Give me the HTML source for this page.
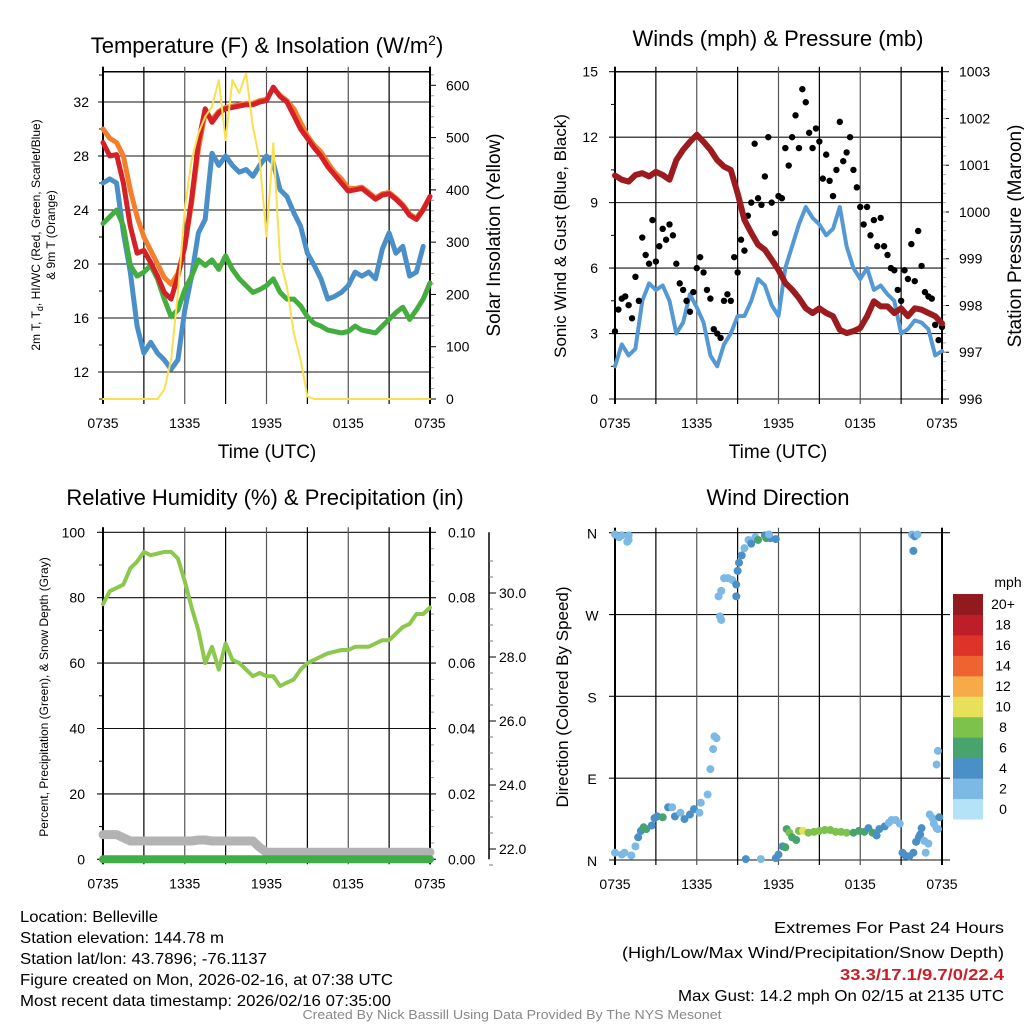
<!DOCTYPE html>
<html><head><meta charset="utf-8"><style>
body{margin:0;background:#fff}
svg{display:block;font-family:"Liberation Sans",Arial,sans-serif}
</style></head><body>
<svg id="s" width="1024" height="1024" viewBox="0 0 1024 1024"></svg>
<script>
// ---------- DATA ----------
const hours = [];for(let i=0;i<=48;i++)hours.push(i/2);
const xTickLabels = ["0735","1335","1935","0135","0735"];
const tempTicks = [12,16,20,24,28,32];
const solarTicks = [0,100,200,300,400,500,600];
const temp2m = [29,28,28.1,26,22.8,20.8,21,20.1,19.1,17.9,17.4,19.1,21.3,24.8,29,31.5,30.5,31.2,31.5,31.6,31.7,31.8,31.8,32,32.1,33.1,32.4,32,31,30,29.3,28.6,28,27.2,26.6,26,25.4,25.5,25.6,25.2,24.8,25.1,25.2,24.8,24.3,23.6,23.3,24,25];
const temp9m = [30,29.3,29,28,25.5,23.5,22,21,20,19,18.5,19.3,21.3,24.5,28.5,31.2,30.7,31.3,31.6,31.7,31.8,31.9,31.9,32.1,32.2,33,32.5,32.1,31.5,30.5,29.5,28.8,28.3,27.5,26.8,26.3,25.6,25.6,25.7,25.3,24.9,25.2,25.3,24.9,24.4,23.7,23.4,24.1,25];
const dewpoint = [26,26.3,26,22.3,19.4,15.4,13.4,14.2,13.4,12.9,12.2,12.9,16.6,19.1,22.3,23.3,28.2,27.3,28,27.3,26.8,27,26.5,27.3,28,27.5,25.5,25,23.8,22.8,20.8,19.9,18.9,17.4,17.6,17.9,18.4,19.4,19.1,19.4,18.9,21.1,22.3,20.8,21.3,19.1,19.4,21.3,null];
const windChill = [23,23.5,24,22.8,19.9,19.1,19.4,19.9,18.9,17.4,16.1,16.6,18.1,19.1,20.3,19.9,20.3,19.6,20.6,19.6,18.9,18.4,17.9,18.1,18.4,18.9,17.9,17.4,17.4,16.9,16.1,15.6,15.4,15.1,15,14.9,15,15.4,15.1,15,14.9,15.4,15.9,16.4,16.8,15.9,16.6,17.4,18.6];
const solar = [0,0,0,0,0,0,0,0,0,18,75,203,362,457,508,540,559,610,495,610,585,623,521,457,311,489,266,215,126,75,5,0,0,0,0,0,0,0,0,0,0,0,0,0,0,0,0,0,0];
const windTicks = [0,3,6,9,12,15];
const presTicks = [996,997,998,999,1000,1001,1002,1003];
const windSpeed = [1.5,2.5,2,2.3,4.5,5.3,5,5.2,4.5,3,3.5,4.8,4.2,3.5,2,1.5,2.5,3,3.8,3.8,4.5,5.5,5.2,4.3,3.8,6,7,8,8.8,8.3,8,7.5,7.8,8.8,7,6,5.5,6,5,5.2,4.8,4.5,3,3.2,3.6,3.5,3.2,2,2.2];
const gustHours = [];for(let i=0;i<=96;i++)gustHours.push(i/4);
const gusts = [3.1,4.1,4.6,4.7,4.3,3.7,5.6,4.5,7.4,6.6,6.2,8.2,
 6.3,7.0,7.8,7.3,8.0,7.5,6.2,5.3,5.0,4.5,4.0,4.9,
 6.0,6.5,5.8,5.0,4.6,3.2,3.0,2.8,4.5,4.8,4.5,6.5,
 5.8,7.3,6.8,8.4,9.0,11.7,9.2,8.9,10.2,12.0,9.0,7.6,
 9.3,9.2,11.5,10.7,12.0,13.0,11.5,14.2,13.6,12.2,11.5,12.4,
 11.8,10.1,11.2,10.0,9.3,10.5,12.7,10.9,11.3,12.0,10.5,9.7,
 8.8,8.0,8.8,7.5,8.2,7.0,8.3,7.0,6.6,6.0,5.9,5.0,
 4.5,5.9,5.5,7.1,5.4,7.7,6.1,4.9,4.7,4.6,3.4,2.7,3.3];
const pressure = [1000.78,1000.69,1000.65,1000.79,1000.83,1000.76,1000.86,1000.79,1000.69,1001.11,1001.33,1001.5,1001.65,1001.5,1001.33,1001.11,1000.97,1000.9,1000.4,999.83,999.55,999.3,999.19,998.98,998.76,998.48,998.34,998.16,997.94,997.84,997.94,997.84,997.77,997.48,997.41,997.45,997.52,997.77,998.09,997.98,997.98,997.84,997.94,997.77,997.94,997.91,997.84,997.77,997.62];
const rhTicks = [0,20,40,60,80,100];
const precipTicks = ["0.00","0.02","0.04","0.06","0.08","0.10"];
const snowTicks = [22,24,26,28,30];
const rh = [78,82,83,84,89,91,94,93,93.5,94,94,92,85,77,70,60,65,58,66,61,60,58,56,57,56,56,53,54,55,58,60,61,62,63,63.5,64,64,65,65,65,66,67,67,69,71,72,75,75,77];
const snowDepth = [22.45,22.45,22.45,22.35,22.25,22.25,22.25,22.25,22.25,22.25,22.25,22.25,22.25,22.25,22.28,22.28,22.25,22.25,22.25,22.25,22.25,22.25,22.25,22.05,21.9,21.9,21.9,21.9,21.9,21.9,21.9,21.9,21.9,21.9,21.9,21.9,21.9,21.9,21.9,21.9,21.9,21.9,21.9,21.9,21.9,21.9,21.9,21.9,21.9];
const precip = new Array(49).fill(0);
const dirLabels = ["N","E","S","W","N"];
const dirHours = [0,0.3,0.5,0.9,1.0,1.0, 0,0.5,0.7,1.2,1.5,1.7,1.9,2.1,2.3,2.7,2.9,3.1,3.5,3.9,4.2,4.4,4.8,5.1,5.5,5.8,6.2,6.3,6.8, 7.0,7.2,7.3,7.45, 7.7,7.8,7.8,7.6,8.0,8.3,8.6,8.9,8.9,9.0,9.1,9.3,9.5,9.8,10.0,10.3,10.5,11.0,11.1,11.4,11.8,11.3, 9.6,10.7,11.8,12.0,12.3,12.5, 12.6,12.8,13.0,13.3,13.5,13.8,14.2,14.6,15.0,15.4,15.8,16.2,16.6,17.0,17.5,17.9,18.3,18.6,18.9,19.2,19.4,19.8,20.1,20.3,20.6,20.9, 21.1,21.3,21.6,21.9,22.1,22.3,22.4,22.5,22.7,22.8,23.0,23.1,23.3,23.4,23.6,23.7,23.6,23.8,23.7, 21.8,22.0,22.2,21.9];
const dirDeg = [358,355,357,350,357,352, 8,6,8,5,15,25,32,36,34,38,46,48,47,58,58,48,52,45,50,56,52,63,72, 100,122,136,134, 268,264,296,290,310,310,308,303,290,318,327,335,343,352,348,355,352,357,354,354,353,358, 1,1,2,6,15,14, 34,30,25,22,32,32,30,31,32,33,33,31,31,30,30,32,31,35,30,27,34,37,41,44,44,40, 8,5,4,8,20,25,28,35,21,8,18,50,46,40,35,120,105,47,34, 358,356,358,340];
const dirSpeed = [2,2,2,2,2,2, 2,2,2,2,2,3,4,5,6,4,4,4,6,4,2,4,2,4,4,4,2,2,2, 1,2,2,2, 2,2,2,2,2,2,2,4,4,4,4,4,2,2,4,2,6,4,6,4,4,2, 4,2,4,4,4,6, 6,8,6,6,8,10,8,8,8,8,8,8,8,8,6,6,6,4,6,4,4,4,2,2,2,2, 4,4,4,4,4,4,4,4,2,2,2,2,2,2,2,2,2,4,2, 2,4,2,4];
const cbLabels = ["0","2","4","6","8","10","12","14","16","18","20+"];
const cbColors = ["#b4e2f6","#7cb9e4","#4a8fc6","#48a46c","#7dc24b","#e8e05a","#f6aa4a","#ef6330","#de3329","#bd1e2a","#921a1e"];

// ---------- DRAW ----------
const NS="http://www.w3.org/2000/svg";const svg=document.getElementById('s');
function el(tag,attrs,parent,text){const e=document.createElementNS(NS,tag);for(const k in attrs)e.setAttribute(k,attrs[k]);if(text!==undefined)e.textContent=text;(parent||svg).appendChild(e);return e;}
const X0L=103,X0R=615,PW=327;
function xh(h,x0){return x0+h*PW/24;}
function poly(xs,ys,color,w,name,parent){let d='',pen=false;for(let i=0;i<xs.length;i++){if(ys[i]===null||ys[i]===undefined||isNaN(ys[i])){pen=false;continue;}d+=(pen?'L':'M')+xs[i].toFixed(1)+' '+ys[i].toFixed(1);pen=true;}
 const p=el('path',{d:d,fill:'none',stroke:color,'stroke-width':w,'stroke-linejoin':'round','stroke-linecap':'round'},parent);
 
 return p;}
function txt(x,y,s,size,anchor,parent,extra){const t=el('text',Object.assign({x:x,y:y,'font-size':size,'text-anchor':anchor||'middle',fill:'#000'},extra||{}),parent,s);return t;}
function frameAndVGrid(g,x0,top,bot,labels){
 for(let i=0;i<=8;i++){const x=xh(i*3,x0);el('line',{x1:x,x2:x,y1:top-5,y2:bot+5,stroke:i%2? '#000':'#555','stroke-width':1.2},g);}
 if(labels){for(let i=0;i<5;i++){const t=txt(xh(i*6,x0),bot+29,xTickLabels[i],14,'middle',g);}}
 el('line',{x1:x0,x2:x0,y1:top-5,y2:bot+5,stroke:'#000','stroke-width':2},g);
 el('line',{x1:x0+PW,x2:x0+PW,y1:top-5,y2:bot+5,stroke:'#000','stroke-width':2},g);
}

// ===== Panel 1: Temperature =====
const g1=el('g',{});
const T1=71.7,B1=399;
const yT=v=>(v===null?null:B1-(v-10)*13.5), yS=v=>B1-v*313.7/600;
el('line',{x1:X0L,x2:X0L+PW,y1:T1,y2:T1,stroke:'#000','stroke-width':1.5},g1);
tempTicks.forEach(v=>{el('line',{x1:X0L-5,x2:X0L+PW,y1:yT(v),y2:yT(v),stroke:'#111','stroke-width':1.1},g1);const t=txt(X0L-14,yT(v)+5,String(v),14,'end',g1);});
for(let v=10;v<=34;v+=2){if(v%4)el('line',{x1:X0L-4,x2:X0L,y1:yT(v),y2:yT(v),stroke:'#000'},g1);}
solarTicks.forEach(v=>{el('line',{x1:X0L+PW,x2:X0L+PW+6,y1:yS(v),y2:yS(v),stroke:'#000'},g1);const t=txt(X0L+PW+16,yS(v)+5,String(v),14,'start',g1);});
for(let v=20;v<=620;v+=20){if(v%100)el('line',{x1:X0L+PW,x2:X0L+PW+4,y1:yS(v),y2:yS(v),stroke:'#999'},g1);}
frameAndVGrid(g1,X0L,T1,B1,true);
const hx1=hours.map(h=>xh(h,X0L));
poly(hx1,dewpoint.map(yT),'#4b8fc9',5,'dewpoint-line',g1);
poly(hx1,windChill.map(yT),'#44ad3f',5,'windchill-line',g1);
poly(hx1,temp9m.map(yT),'#f47f2a',5,'temp-9m-line',g1);
poly(hx1,temp2m.map(yT),'#d62027',5,'temp-2m-line',g1);
poly(hx1,solar.map(yS),'#f8e04e',2,'solar-line',g1);
let t;
t=txt(267,53,'',22,'middle',g1);t.innerHTML='Temperature (F) &amp; Insolation (W/m<tspan dy="-8" font-size="14">2</tspan><tspan dy="8">)</tspan>';
t=txt(267,458,'Time (UTC)',19,'middle',g1);
t=txt(0,0,'',12,'middle',g1,{transform:'translate(40,235) rotate(-90)'});t.innerHTML='2m T, T<tspan font-size="9" dy="3">d</tspan><tspan dy="-3">, HI/WC (Red, Green, Scarlet/Blue)</tspan>';
t=txt(0,0,'& 9m T (Orange)',12,'middle',g1,{transform:'translate(55,235) rotate(-90)'});
t=txt(0,0,'Solar Insolation (Yellow)',19,'middle',g1,{transform:'translate(500,235) rotate(-90)'});

// ===== Panel 2: Winds =====
const g2=el('g',{});
const yW=v=>B1-v*327.3/15, yP=v=>B1-(v-996)*327.3/7;
el('line',{x1:X0R,x2:X0R+PW,y1:T1,y2:T1,stroke:'#000','stroke-width':1.5},g2);
windTicks.forEach(v=>{el('line',{x1:X0R-6,x2:X0R+PW,y1:yW(v),y2:yW(v),stroke:'#111','stroke-width':1.1},g2);const t=txt(X0R-17,yW(v)+5,String(v),14,'end',g2);});
for(let v=1.5;v<15;v+=3)el('line',{x1:X0R-4,x2:X0R,y1:yW(v),y2:yW(v),stroke:'#000'},g2);
presTicks.forEach(v=>{el('line',{x1:X0R+PW,x2:X0R+PW+7,y1:yP(v),y2:yP(v),stroke:'#000'},g2);const t=txt(X0R+PW+17,yP(v)+5,String(v),14,'start',g2);});
for(let v=996.2;v<1003;v+=0.2)el('line',{x1:X0R+PW,x2:X0R+PW+4,y1:yP(v),y2:yP(v),stroke:'#aaa'},g2);
frameAndVGrid(g2,X0R,T1,B1,true);
poly(hours.map(h=>xh(h,X0R)),windSpeed.map(yW),'#5499d4',4,'sonic-wind-line',g2);
gusts.forEach((v,i)=>{const c=el('circle',{cx:xh(gustHours[i],X0R),cy:yW(v),r:3.2,fill:'#000'},g2);});
poly(hours.map(h=>xh(h,X0R)),pressure.map(yP),'#9b1b1e',6,'pressure-line',g2);
t=txt(778,46,'Winds (mph) & Pressure (mb)',22,'middle',g2);
t=txt(778,458,'Time (UTC)',19,'middle',g2);
t=txt(0,0,'Sonic Wind & Gust (Blue, Black)',17,'middle',g2,{transform:'translate(566,236) rotate(-90)'});
t=txt(0,0,'Station Pressure (Maroon)',19,'middle',g2,{transform:'translate(1021,236) rotate(-90)'});

// ===== Panel 3: RH =====
const g3=el('g',{});
const T3=532.3,B3=859.3;
const yR=v=>B3-v*3.27, ySn=v=>849-(v-22)*32;
rhTicks.forEach((v,i)=>{el('line',{x1:X0L-6,x2:X0L+PW+6,y1:yR(v),y2:yR(v),stroke:'#111','stroke-width':1.1},g3);
 let t=txt(X0L-18,yR(v)+5,String(v),14,'end',g3);
 t=txt(X0L+PW+18,yR(v)+5,precipTicks[i],14,'start',g3);});
for(let v=10;v<100;v+=20){el('line',{x1:X0L-4,x2:X0L,y1:yR(v),y2:yR(v),stroke:'#000'},g3);}
for(let v=5;v<100;v+=5){if(v%20)el('line',{x1:X0L+PW,x2:X0L+PW+4,y1:yR(v),y2:yR(v),stroke:'#999'},g3);}
frameAndVGrid(g3,X0L,T3,B3,true);
el('line',{x1:489,x2:489,y1:T3,y2:B3,stroke:'#000','stroke-width':1.5},g3);
snowTicks.forEach(v=>{el('line',{x1:489,x2:496,y1:ySn(v),y2:ySn(v),stroke:'#000'},g3);const t=txt(499,ySn(v)+5,v.toFixed(1),14,'start',g3);});
for(let v=21.5;v<31.5;v+=0.5){if(v%2)el('line',{x1:489,x2:493,y1:ySn(v),y2:ySn(v),stroke:'#777'},g3);}
const hx3=hours.map(h=>xh(h,X0L));
poly(hx3,snowDepth.map(ySn),'#b3b3b3',9,'snow-depth-line',g3);
poly(hx3,precip.map(v=>yR(v*1000)),'#3fae49',8,'precip-line',g3);
poly(hx3,rh.map(yR),'#8cc84b',4,'rh-line',g3);
t=txt(265,505,'Relative Humidity (%) & Precipitation (in)',22,'middle',g3);
t=txt(0,0,'Percent, Precipitation (Green), & Snow Depth (Gray)',12,'middle',g3,{transform:'translate(48,697) rotate(-90)'});

// ===== Panel 4: Wind direction =====
const g4=el('g',{});
const T4=532.7,B4=860;
const yD=v=>B4-v*(B4-T4)/360;
dirLabels.forEach((s,i)=>{const y=yD(i*90);el('line',{x1:X0R-6,x2:X0R+PW+8,y1:y,y2:y,stroke:'#111','stroke-width':1.1},g4);const t=txt(592,y+6,s,14,'middle',g4);});
frameAndVGrid(g4,X0R,T4,B4,true);
dirHours.forEach((h,i)=>{const idx=Math.min(10,Math.round(dirSpeed[i]/2));const c=el('circle',{cx:xh(h,X0R),cy:yD(dirDeg[i]),r:4,fill:cbColors[idx]},g4);});
t=txt(778,505,'Wind Direction',22,'middle',g4);
t=txt(0,0,'Direction (Colored By Speed)',17,'middle',g4,{transform:'translate(568,697) rotate(-90)'});
const cb=el('g',{},g4);
const cbTop=594,cbBot=819,cbH=(cbBot-cbTop)/11;
cbColors.forEach((c,i)=>{const y=cbBot-(i+1)*cbH;el('rect',{x:953,y:y,width:30,height:cbH+0.5,fill:c},cb);const t=txt(1003,y+cbH/2+5,cbLabels[i],14,'middle',cb);});
t=txt(1008,587,'mph',14,'middle',cb);

// ===== Footer =====
const gf=el('g',{});
const leftLines=["Location: Belleville","Station elevation: 144.78 m","Station lat/lon: 43.7896; -76.1137","Figure created on Mon, 2026-02-16, at 07:38 UTC","Most recent data timestamp: 2026/02/16 07:35:00"];
const leftLens=[138,204,247,373,371];
leftLines.forEach((s,i)=>{const t=txt(20,922+i*21,s,16,'start',gf,{textLength:leftLens[i],lengthAdjust:'spacingAndGlyphs'});});
t=txt(1004,933,'Extremes For Past 24 Hours',16,'end',gf,{textLength:230,lengthAdjust:'spacingAndGlyphs'});
t=txt(1004,958,'(High/Low/Max Wind/Precipitation/Snow Depth)',16,'end',gf,{textLength:382,lengthAdjust:'spacingAndGlyphs'});
t=txt(1004,980,'33.3/17.1/9.7/0/22.4',16,'end',gf,{fill:'#c8202a','font-weight':'bold',textLength:164,lengthAdjust:'spacingAndGlyphs'});
t=txt(1004,1001,'Max Gust: 14.2 mph On 02/15 at 2135 UTC',16,'end',gf,{textLength:326,lengthAdjust:'spacingAndGlyphs'});
t=txt(512,1019,'Created By Nick Bassill Using Data Provided By The NYS Mesonet',13,'middle',gf,{fill:'#888',textLength:419,lengthAdjust:'spacingAndGlyphs'});
</script>
</body></html>
